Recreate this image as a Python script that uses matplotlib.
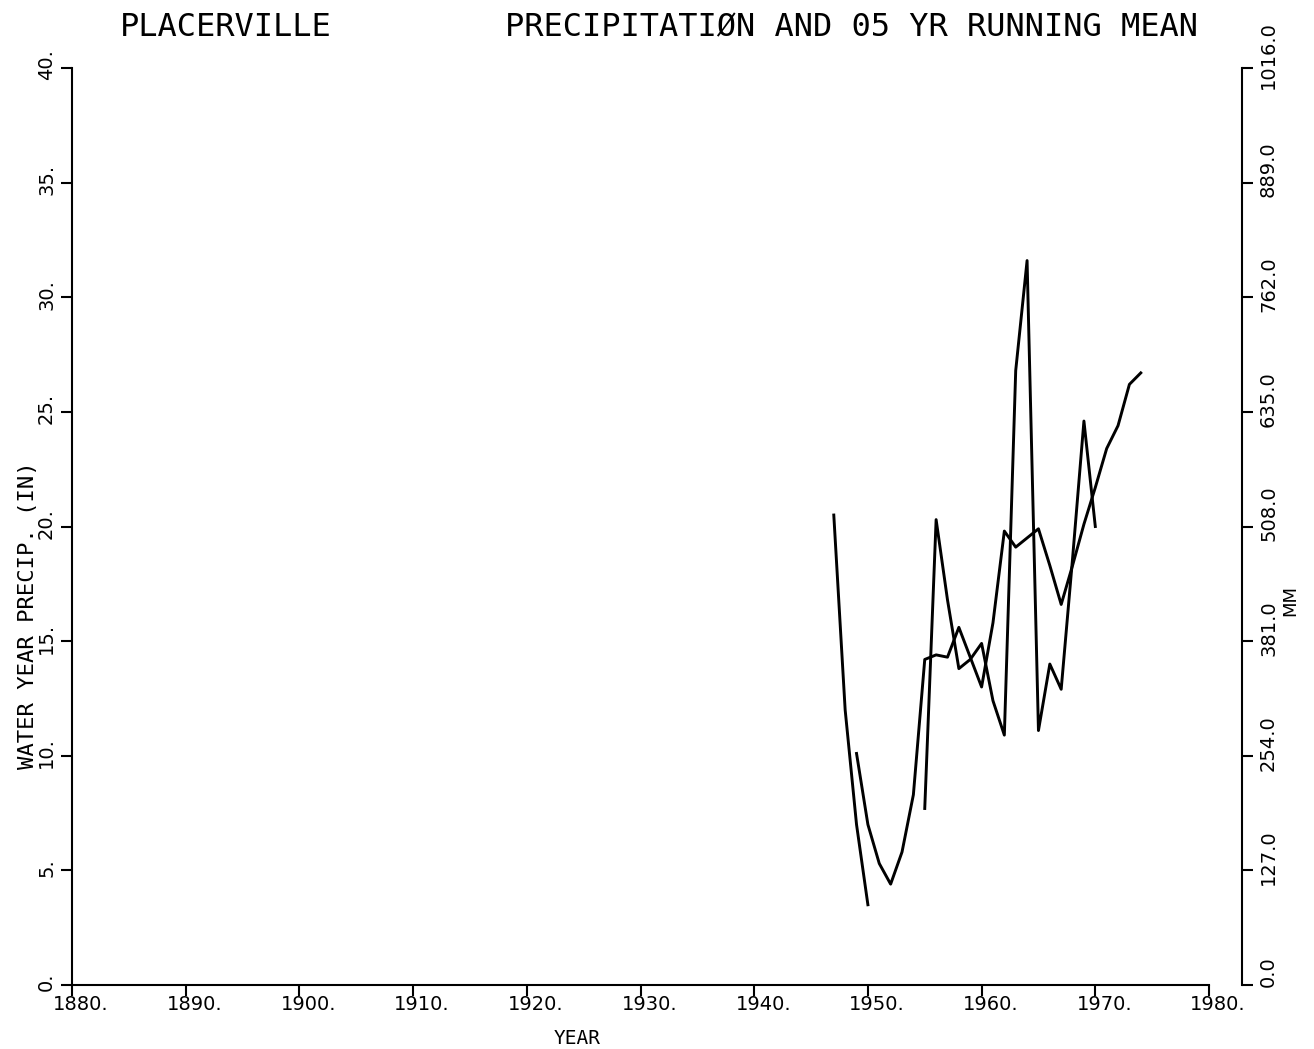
import numpy as np
import matplotlib
matplotlib.use('Agg')
import matplotlib.pyplot as plt
from matplotlib.transforms import ScaledTranslation, blended_transform_factory

# ---------------- data ----------------
years_annual = [1947, 1948, 1949, 1950, 1951, 1952, 1953, 1954, 1955, 1956,
                1957, 1958, 1959, 1960, 1961, 1962, 1963, 1964, 1965, 1966,
                1967, 1968, 1969, 1970]
precip_annual = [20.5, 12.0, 7.0, 3.5, np.nan, np.nan, np.nan, np.nan, 7.7, 20.3,
                 16.8, 13.8, 14.2, 14.9, 12.4, 10.9, 26.8, 31.6, 11.1, 14.0,
                 12.9, 18.6, 24.6, 20.0]

years_mean = [1949, 1950, 1951, 1952, 1953, 1954, 1955, 1956, 1957, 1958,
              1959, 1960, 1961, 1962, 1963, 1964, 1965, 1966, 1967, 1968,
              1969, 1970, 1971, 1972, 1973, 1974]
precip_mean = [10.1, 7.0, 5.3, 4.4, 5.8, 8.3, 14.2, 14.4, 14.3, 15.6,
               14.3, 13.0, 15.8, 19.8, 19.1, 19.5, 19.9, 18.3, 16.6, 18.3,
               20.1, 21.7, 23.4, 24.4, 26.2, 26.7]

x_ticks = [1880, 1890, 1900, 1910, 1920, 1930, 1940, 1950, 1960, 1970, 1980]
x_tick_labels = ['1880.', '1890.', '1900.', '1910.', '1920.', '1930.',
                 '1940.', '1950.', '1960.', '1970.', '1980.']
y_ticks_in = [0, 5, 10, 15, 20, 25, 30, 35, 40]
y_tick_labels_in = ['0.', '5.', '10.', '15.', '20.', '25.', '30.', '35.', '40.']
y_ticks_mm = [0, 127, 254, 381, 508, 635, 762, 889, 1016]
y_tick_labels_mm = ['0.0', '127.0', '254.0', '381.0', '508.0', '635.0',
                    '762.0', '889.0', '1016.0']

title_left = 'PLACERVILLE'
title_right = 'PRECIPITATIØN AND 05 YR RUNNING MEAN'
xlabel = 'YEAR'
ylabel_left = 'WATER YEAR PRECIP. (IN)'
ylabel_right = 'MM'

# ---------------- figure ----------------
W, H = 1314, 1049
DPI = 100
fig = plt.figure(figsize=(W / DPI, H / DPI), dpi=DPI)
L, R, B, T = 72, 1209, 985, 68
RIGHT_SPINE = 1242

mono = ['DejaVu Sans Mono']
tickfont = ['DejaVu Sans']

ax = fig.add_axes([L / W, 1 - B / H, (R - L) / W, (B - T) / H])
ax.plot(years_annual, precip_annual, color='black', lw=2.1, solid_joinstyle='round')
ax.plot(years_mean, precip_mean, color='black', lw=2.1, solid_joinstyle='round')
ax.set_xlim(1880, 1980)
ax.set_ylim(0, 40)
for s in ['top', 'right']:
    ax.spines[s].set_visible(False)
for s in ['left', 'bottom']:
    ax.spines[s].set_linewidth(1.5)
ax.set_xticks(x_ticks)
ax.set_yticks(y_ticks_in)
ax.tick_params(direction='out', length=8, width=1.5,
               labelbottom=False, labelleft=False)

ax2 = ax.twinx()
ax2.set_ylim(0, 1016)
pos = (RIGHT_SPINE - L) / (R - L)
ax2.spines['right'].set_position(('axes', pos))
for s in ['left', 'top', 'bottom']:
    ax2.spines[s].set_visible(False)
ax2.spines['right'].set_linewidth(1.5)
ax2.set_yticks(y_ticks_mm)
ax2.tick_params(direction='out', length=8, width=1.5, labelright=False)


def off(dx, dy):
    return ScaledTranslation(dx / DPI, dy / DPI, fig.dpi_scale_trans)


# x tick labels
tx = blended_transform_factory(ax.transData, ax.transAxes)
for x, lab in zip(x_ticks, x_tick_labels):
    ax.text(x, 0, lab, transform=tx + off(9, -10), ha='center', va='top',
            fontsize=14, family=tickfont)

# left y tick labels
ty = blended_transform_factory(ax.transAxes, ax.transData)
for y, lab in zip(y_ticks_in, y_tick_labels_in):
    ax.text(0, y, lab, transform=ty + off(-16, 3), ha='right', va='center',
            rotation=90, fontsize=14, family=tickfont)

# right y tick labels
ty2 = blended_transform_factory(ax2.transAxes, ax2.transData)
for y, lab in zip(y_ticks_mm, y_tick_labels_mm):
    ax2.text(pos, y, lab, transform=ty2 + off(17, 13), ha='left', va='center',
             rotation=90, fontsize=14, family=tickfont)

# titles and axis labels
fig.text(120 / W, 1 - 28 / H, title_left, ha='left', va='center',
         fontsize=23, family=mono)
fig.text(505 / W, 1 - 28 / H, title_right, ha='left', va='center',
         fontsize=23, family=mono)
fig.text(577 / W, 1 - 1038 / H, xlabel, ha='center', va='center',
         fontsize=14, family=mono)
fig.text(28 / W, 1 - 615 / H, ylabel_left, ha='center', va='center',
         rotation=90, fontsize=16, family=mono)
fig.text(1290 / W, 1 - 600 / H, ylabel_right, ha='center', va='center',
         rotation=90, fontsize=13, family=['DejaVu Sans'])

fig.savefig('out.png', dpi=DPI)
